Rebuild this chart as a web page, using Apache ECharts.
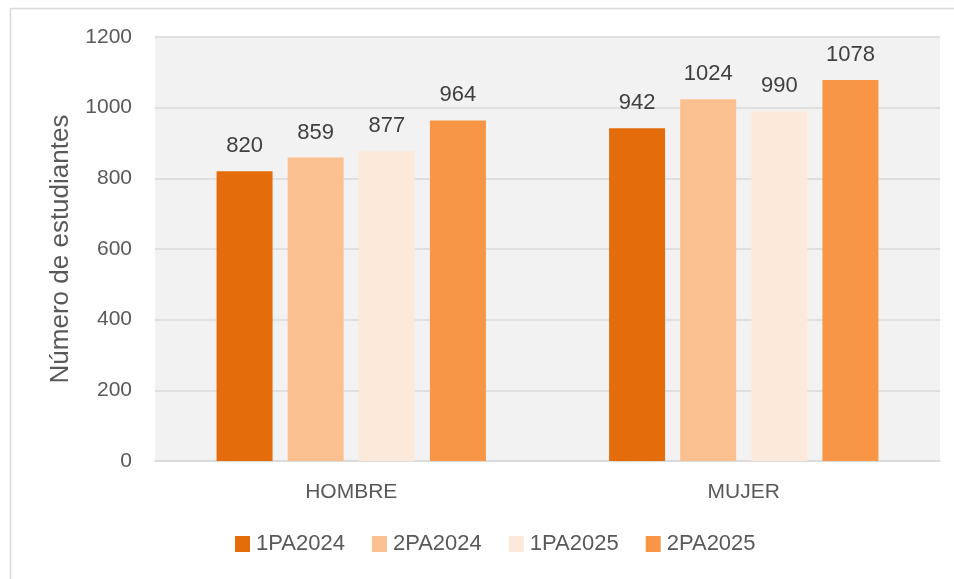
<!DOCTYPE html>
<html><head><meta charset="utf-8">
<script src="https://cdn.jsdelivr.net/npm/echarts@6/dist/echarts.min.js"></script>
<style>html,body{margin:0;padding:0;background:#fff}#c{width:954px;height:579px}</style>
</head><body><div id="c"></div>
<script>
const categories = ['HOMBRE', 'MUJER'];
const seriesNames = ['1PA2024', '2PA2024', '1PA2025', '2PA2025'];
const v1PA2024 = [820, 942];
const v2PA2024 = [859, 1024];
const v1PA2025 = [877, 990];
const v2PA2025 = [964, 1078];
const yTicks = [0, 200, 400, 600, 800, 1000, 1200];
const colors = ['#E46C0A', '#FAC090', '#FDE9D9', '#F79646'];
const values = [v1PA2024, v2PA2024, v1PA2025, v2PA2025];

const chart = echarts.init(document.getElementById('c'));
const font = '"Liberation Sans", Arial, sans-serif';
chart.setOption({
  animation: false,
  textStyle: { fontFamily: font },
  graphic: [
    { type: 'rect', shape: { x: 10.5, y: 8.5, width: 1000, height: 700 }, style: { fill: 'none', stroke: '#d9d9d9', lineWidth: 1.5 }, z: -10 }
  ],
  grid: { left: 155, right: 14, top: 37, bottom: 118, backgroundColor: '#f2f2f2', show: true, borderWidth: 0 },
  legend: {
    bottom: 19, left: 230, itemWidth: 15, itemHeight: 16, itemGap: 27, icon: 'rect',
    textStyle: { fontSize: 22, color: '#595959', fontFamily: font, padding: [0, 0, 0, 1] },
    data: seriesNames
  },
  xAxis: {
    type: 'category', data: categories,
    axisLine: { show: true, lineStyle: { color: '#d9d9d9', width: 1.5 } },
    axisTick: { show: false },
    axisLabel: { fontSize: 21, color: '#595959', margin: 21 }
  },
  yAxis: {
    type: 'value', min: yTicks[0], max: yTicks[yTicks.length - 1], interval: 200,
    name: 'Número de estudiantes', nameLocation: 'middle', nameGap: 81,
    nameTextStyle: { fontSize: 26, color: '#595959' },
    axisLine: { show: false }, axisTick: { show: false },
    axisLabel: { fontSize: 21, color: '#595959', margin: 23, formatter: v => String(v) },
    splitLine: { lineStyle: { color: '#d9d9d9', width: 1.5 } }
  },
  series: seriesNames.map((n, i) => ({
    name: n, type: 'bar', data: values[i],
    barWidth: 56, barGap: '27%',
    itemStyle: { color: colors[i] },
    label: { show: true, position: 'top', distance: 14, fontSize: 22, color: '#404040' }
  }))
});
</script></body></html>
